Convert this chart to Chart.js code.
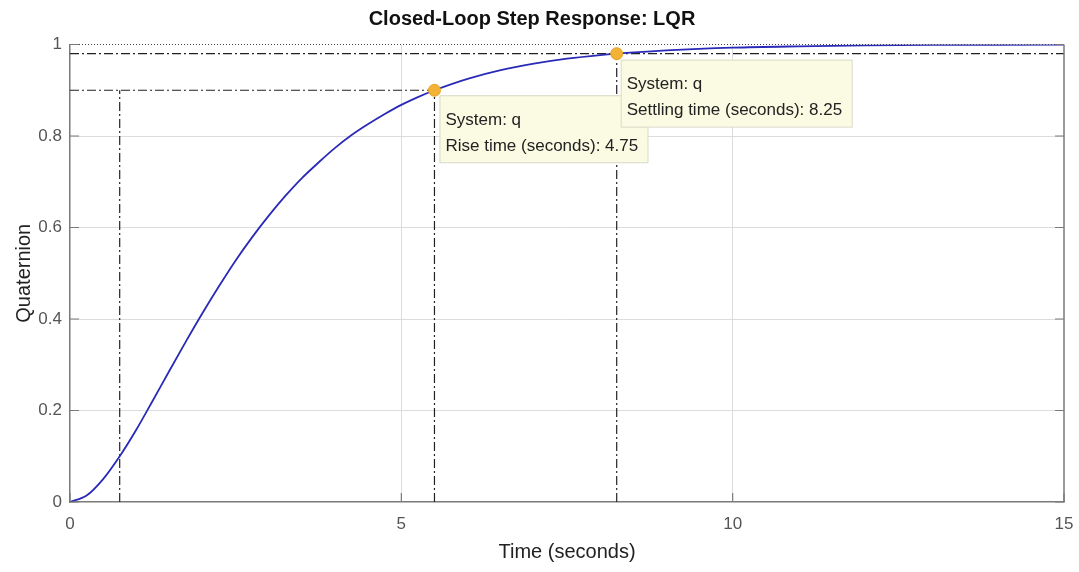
<!DOCTYPE html>
<html>
<head>
<meta charset="utf-8">
<script src="https://cdn.jsdelivr.net/npm/chart.js@4.4.1/dist/chart.umd.min.js"></script>
<style>
  html, body { margin: 0; padding: 0; background: #fff; }
  #wrap { width: 1079px; height: 572px; }
</style>
</head>
<body>
<div id="wrap"><canvas id="step"></canvas></div>
<script>
// step response
const timeSec = [0, 0.25, 0.5, 0.75, 1, 1.25, 1.5, 1.75, 2, 2.25, 2.5, 2.75, 3, 3.25, 3.5, 3.75,
    4, 4.25, 4.5, 4.75, 5, 5.25, 5.5, 6, 6.5, 7, 7.5, 8, 8.25, 9, 10, 11, 12, 13, 14, 15];
const quaternion = [0, 0.014, 0.050, 0.100, 0.158, 0.222, 0.287, 0.351, 0.413, 0.472, 0.528, 0.579,
    0.626, 0.669, 0.708, 0.742, 0.774, 0.802, 0.826, 0.848, 0.868, 0.885, 0.900, 0.925, 0.944,
    0.958, 0.969, 0.977, 0.980, 0.987, 0.993, 0.996, 0.998, 0.999, 0.9995, 0.9997];

const xTicks = [0, 5, 10, 15];
const yTicks = [0, 0.2, 0.4, 0.6, 0.8, 1];

// rise / settling characteristics
const riseStart = 0.75;
const riseEnd = 5.5;
const settleTime = 8.25;
const riseHigh = 0.9;
const settleLevel = 0.98;
const riseTime = 4.75;

const FONT = '"Liberation Sans", Arial, sans-serif';
const dashDot = [9, 3, 2, 3];
const refLine = (pts) => ({
    type: 'line',
    data: pts,
    borderColor: '#222',
    borderWidth: 1.2,
    borderDash: dashDot,
    pointRadius: 0,
    fill: false,
    order: 3
});

const tips = [
    { x: riseEnd, y: riseHigh, dx: 5, dy: 5, w: 208, h: 67,
      lines: ['System: q', 'Rise time (seconds): ' + riseTime] },
    { x: settleTime, y: settleLevel, dx: 4, dy: 6, w: 231, h: 67,
      lines: ['System: q', 'Settling time (seconds): ' + settleTime] }
];

const matlabFrame = {
    id: 'matlabFrame',
    afterDatasetsDraw(chart) {
        const { ctx, chartArea: a, scales: { x, y } } = chart;
        ctx.save();
        // right edge
        ctx.strokeStyle = '#7a7a7a';
        ctx.lineWidth = 1.5;
        ctx.beginPath();
        ctx.moveTo(a.right, a.top);
        ctx.lineTo(a.right, a.bottom);
        ctx.stroke();
        // dotted top edge
        ctx.strokeStyle = '#444';
        ctx.lineWidth = 1.2;
        ctx.setLineDash([1, 2]);
        ctx.beginPath();
        ctx.moveTo(a.left, a.top);
        ctx.lineTo(a.right, a.top);
        ctx.stroke();
        ctx.setLineDash([]);
        // inward ticks
        ctx.strokeStyle = '#7a7a7a';
        ctx.lineWidth = 1.2;
        ctx.beginPath();
        yTicks.forEach(v => {
            const py = y.getPixelForValue(v);
            ctx.moveTo(a.left, py); ctx.lineTo(a.left + 9, py);
            ctx.moveTo(a.right, py); ctx.lineTo(a.right - 9, py);
        });
        xTicks.forEach(v => {
            const px = x.getPixelForValue(v);
            ctx.moveTo(px, a.bottom); ctx.lineTo(px, a.bottom - 9);
        });
        ctx.stroke();

        // data tips
        tips.forEach(t => {
            const px = x.getPixelForValue(t.x) + t.dx;
            const py = y.getPixelForValue(t.y) + t.dy;
            ctx.fillStyle = '#fbfbe3';
            ctx.strokeStyle = '#d9d9c6';
            ctx.lineWidth = 1;
            ctx.fillRect(px, py, t.w, t.h);
            ctx.strokeRect(px + 0.5, py + 0.5, t.w, t.h);
            ctx.fillStyle = '#222';
            ctx.font = '17px ' + FONT;
            ctx.textBaseline = 'middle';
            ctx.fillText(t.lines[0], px + 6, py + 25);
            ctx.fillText(t.lines[1], px + 6, py + 51);
        });
        ctx.restore();
    }
};

new Chart('step', {
    type: 'line',
    data: {
        datasets: [
            {
                label: 'q',
                data: timeSec.map((t, i) => ({ x: t, y: quaternion[i] })),
                borderColor: '#2a2ab8',
                borderWidth: 1.8,
                pointRadius: 0,
                cubicInterpolationMode: 'monotone',
                fill: false,
                order: 2
            },
            refLine([{ x: 0, y: riseHigh }, { x: riseEnd, y: riseHigh }]),
            refLine([{ x: 0, y: settleLevel }, { x: 15, y: settleLevel }]),
            refLine([{ x: riseStart, y: 0 }, { x: riseStart, y: riseHigh }]),
            refLine([{ x: riseEnd, y: 0 }, { x: riseEnd, y: riseHigh }]),
            refLine([{ x: settleTime, y: 0 }, { x: settleTime, y: settleLevel }]),
            {
                type: 'scatter',
                data: [{ x: riseEnd, y: riseHigh }, { x: settleTime, y: settleLevel }],
                pointRadius: 6,
                pointBackgroundColor: '#f1b235',
                pointBorderColor: '#e3a52a',
                pointBorderWidth: 1,
                order: 1
            }
        ]
    },
    options: {
        responsive: true,
        maintainAspectRatio: false,
        animation: false,
        layout: { padding: { left: 0, right: 15, top: 0, bottom: 0 } },
        plugins: {
            legend: { display: false },
            tooltip: { enabled: false },
            title: {
                display: true,
                text: 'Closed-Loop Step Response: LQR',
                color: '#111',
                font: { family: FONT, size: 20, weight: 'bold' },
                padding: { top: 7, bottom: 13.5 }
            }
        },
        scales: {
            x: {
                type: 'linear',
                min: 0,
                max: 15,
                afterFit: (s) => { s.height = 70; s.paddingLeft = 0; s.paddingRight = 0; },
                afterBuildTicks: (s) => { s.ticks = xTicks.map(v => ({ value: v })); },
                ticks: {
                    color: '#555',
                    padding: 12,
                    font: { family: FONT, size: 17 }
                },
                grid: {
                    color: (c) => (c.tick && (c.tick.value === 0 || c.tick.value === 15)) ? 'rgba(0,0,0,0)' : '#dcdcdc',
                    lineWidth: 1,
                    drawTicks: false
                },
                border: { color: '#7a7a7a', width: 1.5 },
                title: {
                    display: true,
                    text: 'Time (seconds)',
                    color: '#222',
                    font: { family: FONT, size: 20 },
                    padding: { top: 0, bottom: 8 }
                }
            },
            y: {
                type: 'linear',
                min: 0,
                max: 1,
                afterFit: (s) => { s.width = 70; },
                afterBuildTicks: (s) => { s.ticks = yTicks.map(v => ({ value: v })); },
                ticks: {
                    color: '#555',
                    padding: 8,
                    font: { family: FONT, size: 17 },
                    callback: (v) => String(+v.toFixed(1))
                },
                grid: {
                    color: (c) => (c.tick && (c.tick.value === 0 || c.tick.value === 1)) ? 'rgba(0,0,0,0)' : '#dcdcdc',
                    lineWidth: 1,
                    drawTicks: false
                },
                border: { color: '#7a7a7a', width: 1.5 },
                title: {
                    display: true,
                    text: 'Quaternion',
                    color: '#222',
                    font: { family: FONT, size: 20 },
                    padding: { top: 12, bottom: 0 }
                }
            }
        }
    },
    plugins: [matlabFrame]
});
</script>
</body>
</html>
